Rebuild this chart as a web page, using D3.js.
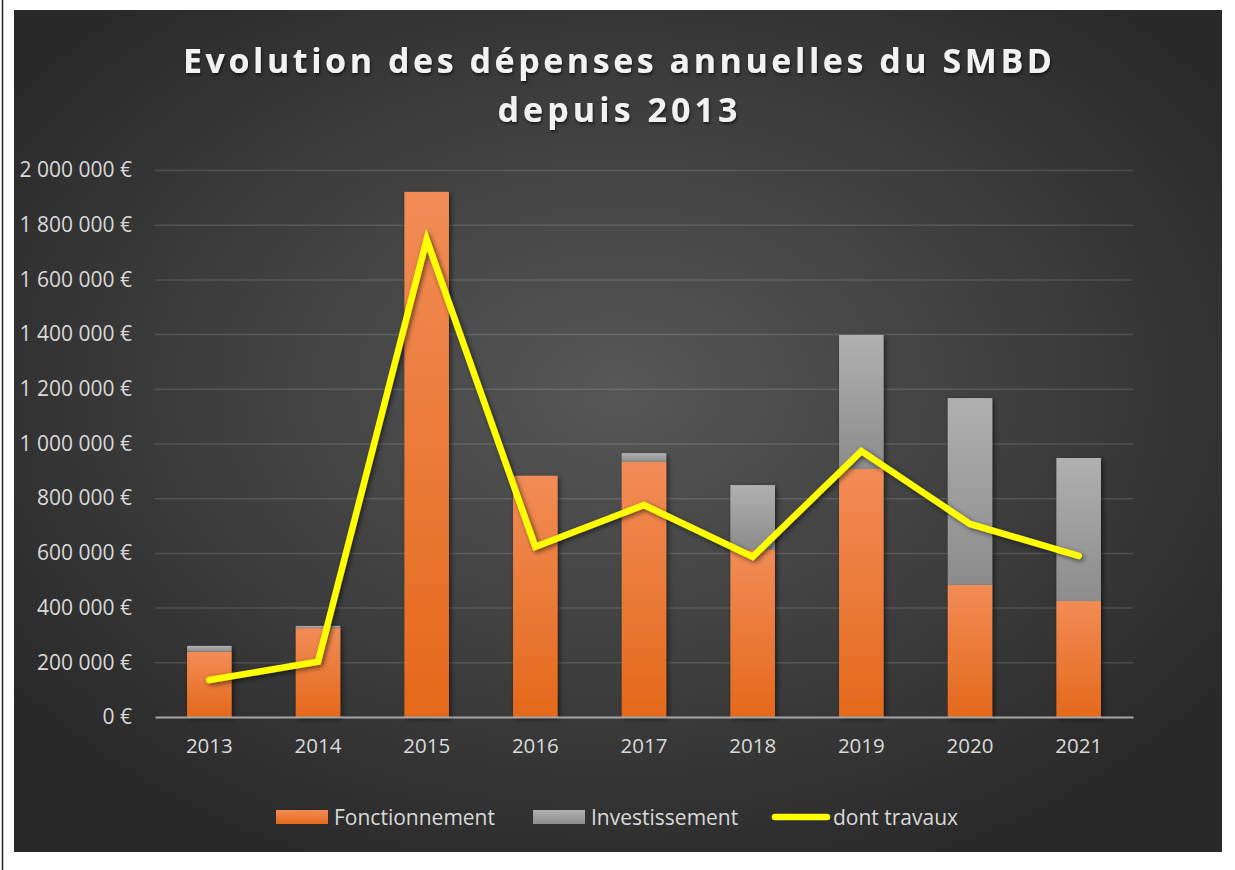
<!DOCTYPE html>
<html>
<head>
<meta charset="utf-8">
<script src="https://cdn.jsdelivr.net/npm/d3@7"></script>
<style>
    body { margin: 0; background: #ffffff; }
    svg { display: block; }
    text { font-family: "Open Sans", sans-serif; }
</style>
</head>
<body>
<div id="chart"></div>
<script>
// data
const years = ["2013", "2014", "2015", "2016", "2017", "2018", "2019", "2020", "2021"];
const fonctionnement = [239000, 325000, 1920000, 882000, 933000, 613000, 907000, 483000, 424000];
const investissement = [21000, 8000, 0, 0, 32000, 235000, 490000, 683000, 523000];
const travaux = [135000, 202000, 1745000, 622000, 775000, 586000, 972000, 706000, 589000];
const yTicks = [0, 200000, 400000, 600000, 800000, 1000000, 1200000, 1400000, 1600000, 1800000, 2000000];
const titleLines = ["Evolution des dépenses annuelles du SMBD", "depuis 2013"];
const legendLabels = ["Fonctionnement", "Investissement", "dont travaux"];

const W = 1235, H = 870;
const plot = { left: 155, right: 1133, top: 170, bottom: 717 };

const svg = d3.select("#chart").append("svg")
    .attr("width", W)
    .attr("height", H);

const defs = svg.append("defs");

// background gradient
const bg = defs.append("radialGradient").attr("id", "bg")
    .attr("cx", "0.5").attr("cy", "0.45").attr("r", "0.62");
bg.append("stop").attr("offset", "0%").attr("stop-color", "#575757");
bg.append("stop").attr("offset", "100%").attr("stop-color", "#292929");

// bar gradients
const gOrange = defs.append("linearGradient").attr("id", "orange")
    .attr("x1", 0).attr("y1", 0).attr("x2", 0).attr("y2", 1);
gOrange.append("stop").attr("offset", "0%").attr("stop-color", "#f28c56");
gOrange.append("stop").attr("offset", "100%").attr("stop-color", "#e4691b");

const gGray = defs.append("linearGradient").attr("id", "gray")
    .attr("x1", 0).attr("y1", 0).attr("x2", 0).attr("y2", 1);
gGray.append("stop").attr("offset", "0%").attr("stop-color", "#b0b0b0");
gGray.append("stop").attr("offset", "100%").attr("stop-color", "#8c8c8c");

const shadow = defs.append("filter").attr("id", "shadow")
    .attr("x", "-20%").attr("y", "-20%").attr("width", "150%").attr("height", "150%");
shadow.append("feDropShadow")
    .attr("dx", 2).attr("dy", 2).attr("stdDeviation", 2.5)
    .attr("flood-color", "#000").attr("flood-opacity", 0.55);

const tshadow = defs.append("filter").attr("id", "tshadow");
tshadow.append("feDropShadow")
    .attr("dx", 1).attr("dy", 2).attr("stdDeviation", 1.5)
    .attr("flood-color", "#000").attr("flood-opacity", 0.6);

// page border line on the left
svg.append("line")
    .attr("x1", 2.5).attr("x2", 2.5).attr("y1", 0).attr("y2", H)
    .attr("stroke", "#222").attr("stroke-width", 1.5);

// chart area
svg.append("rect")
    .attr("x", 14).attr("y", 10)
    .attr("width", 1208).attr("height", 842)
    .attr("fill", "url(#bg)");

// title
svg.selectAll("text.title")
    .data(titleLines)
    .enter().append("text")
    .attr("class", "title")
    .attr("x", 617.5)
    .attr("y", (d, i) => i === 0 ? 73 : 122)
    .attr("text-anchor", "middle")
    .attr("textLength", (d, i) => i === 0 ? 869 : 240)
    .attr("lengthAdjust", "spacing")
    .attr("font-size", 34)
    .attr("font-weight", "bold")
    .attr("fill", "#f2f2f2")
    .attr("filter", "url(#tshadow)")
    .text(d => d);

// scales
const x = d3.scaleBand()
    .domain(years)
    .range([plot.left, plot.right])
    .paddingInner(0.59)
    .paddingOuter(0.295);

const y = d3.scaleLinear()
    .domain([0, 2000000])
    .range([plot.bottom, plot.top]);

const fmt = v => d3.format(",")(v).replace(/,/g, "\u00a0") + " €";

// gridlines
svg.append("g")
    .attr("transform", `translate(${plot.left},0)`)
    .call(d3.axisLeft(y).tickValues(yTicks.slice(1)).tickSize(-(plot.right - plot.left)).tickFormat(""))
    .call(g => g.select(".domain").remove())
    .call(g => g.selectAll("line").attr("stroke", "#ffffff").attr("stroke-opacity", 0.13).attr("stroke-width", 1.5));

// y axis labels
svg.append("g")
    .attr("transform", `translate(${plot.left},0)`)
    .call(d3.axisLeft(y).tickValues(yTicks).tickSize(0).tickPadding(23).tickFormat(fmt))
    .call(g => g.select(".domain").remove())
    .call(g => g.selectAll("text")
        .attr("font-family", "'Open Sans', sans-serif")
        .attr("font-size", 21)
        .attr("fill", "#d9d9d9"));

// stacked bars
const stackData = years.map((yr, i) => ({ year: yr, f: fonctionnement[i], inv: investissement[i] }));
const series = d3.stack().keys(["f", "inv"])(stackData);
const fills = { f: "url(#orange)", inv: "url(#gray)" };

const barsG = svg.append("g").attr("filter", "url(#shadow)");
series.forEach(s => {
    barsG.append("g")
        .selectAll("rect")
        .data(s)
        .enter().append("rect")
        .attr("x", d => x(d.data.year))
        .attr("y", d => y(d[1]))
        .attr("width", x.bandwidth())
        .attr("height", d => y(d[0]) - y(d[1]))
        .attr("fill", fills[s.key]);
});

// x axis
svg.append("g")
    .attr("transform", `translate(0,${plot.bottom})`)
    .call(d3.axisBottom(x).tickSize(0).tickPadding(21))
    .call(g => g.select(".domain").attr("stroke", "#a6a6a6").attr("stroke-width", 2))
    .call(g => g.selectAll("text")
        .attr("font-family", "'Open Sans', sans-serif")
        .attr("font-size", 20.5)
        .attr("fill", "#d9d9d9"));

// travaux line
const line = d3.line()
    .x((d, i) => x(years[i]) + x.bandwidth() / 2)
    .y(d => y(d));

svg.append("path")
    .datum(travaux)
    .attr("d", line)
    .attr("fill", "none")
    .attr("stroke", "#ffff00")
    .attr("stroke-width", 6.5)
    .attr("stroke-linecap", "round")
    .attr("stroke-linejoin", "miter")
    .attr("filter", "url(#shadow)");

// legend
const legend = svg.append("g");
const legendX = [276, 533, 772];
const legendY = 817;

legend.append("rect")
    .attr("x", legendX[0]).attr("y", legendY - 7)
    .attr("width", 52).attr("height", 14)
    .attr("fill", "url(#orange)");
legend.append("rect")
    .attr("x", legendX[1]).attr("y", legendY - 7)
    .attr("width", 52).attr("height", 14)
    .attr("fill", "url(#gray)");
legend.append("line")
    .attr("x1", legendX[2] + 3).attr("x2", legendX[2] + 55)
    .attr("y1", legendY).attr("y2", legendY)
    .attr("stroke", "#ffff00").attr("stroke-width", 6.5)
    .attr("stroke-linecap", "round");

legend.selectAll("text")
    .data(legendLabels)
    .enter().append("text")
    .attr("x", (d, i) => legendX[i] + (i === 2 ? 61 : 58))
    .attr("y", legendY + 7.5)
    .attr("font-size", 21)
    .attr("fill", "#d9d9d9")
    .text(d => d);
</script>
</body>
</html>
